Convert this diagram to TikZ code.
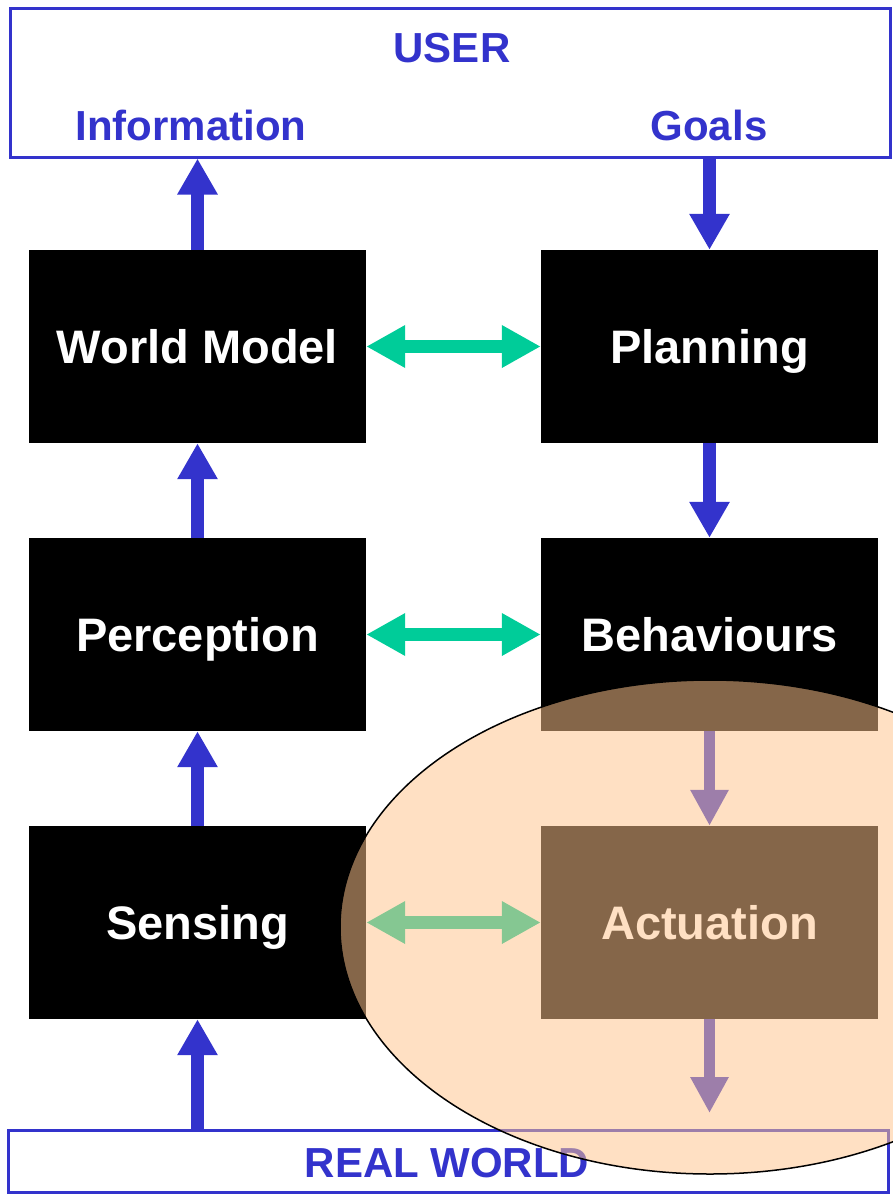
\documentclass[tikz,border=0pt]{standalone}
\usepackage{fontspec}
\setmainfont{Liberation Sans}
\usetikzlibrary{arrows.meta}
\definecolor{flowblue}{RGB}{51,51,204}
\definecolor{linkgreen}{RGB}{0,204,153}
\definecolor{peach}{RGB}{255,196,140}
\tikzset{
  block/.style={fill=black, minimum width=337pt, minimum height=193pt,
    inner sep=0pt, text=white, font=\fontsize{47}{50}\selectfont\bfseries,
    text height=34pt, text depth=0pt},
  frame/.style={draw=flowblue, line width=3pt, fill=white, inner sep=0pt},
  bluetext/.style={text=flowblue, font=\fontsize{42}{46}\selectfont\bfseries,
    inner sep=0pt, text height=30pt, text depth=0pt},
  flow/.style={draw=flowblue, line width=13pt,
    -{Triangle[length=36pt 0 0, width=38pt 0 0]}},
  thinflow/.style={draw=flowblue, line width=11pt,
    -{Triangle[length=36pt 0 0, width=36pt 0 0]}},
  link/.style={draw=linkgreen, line width=13pt,
    {Triangle[length=39pt 0 0, width=40pt 0 0]}-{Triangle[length=39pt 0 0, width=40pt 0 0]}},
}
\begin{document}
\begin{tikzpicture}[x=1pt,y=-1pt]
\useasboundingbox (0,0) rectangle (893,1194);

% user and world frames
\node[frame, minimum width=880pt, minimum height=149pt] (user) at (450,82.5) {};
\node[bluetext] (usertxt) at (452,47) {USER};
\node[bluetext] (info) at (191,125) {Information};
\node[bluetext] (goals) at (709,125) {Goals};
\node[frame, minimum width=880pt, minimum height=62pt] (real) at (448,1161) {};
\node[bluetext] (realtxt) at (447,1162) {REAL WORLD};

% processing blocks
\node[block] (wm)   at (197.5,346.5) {World Model};
\node[block] (plan) at (709.5,346.5) {Planning};
\node[block] (perc) at (197.5,634.5) {Perception};
\node[block] (beh)  at (709.5,634.5) {Behaviours};
\node[block] (sens) at (197.5,922.5) {Sensing};
\node[block] (act)  at (709.5,922.5) {Actuation};

% vertical data flow
\draw[flow] (wm.north) -- (wm.north |- user.south);
\draw[flow] (plan.north |- user.south) -- (plan.north);
\draw[flow] (plan.south) -- (beh.north);
\draw[flow] (perc.north) -- (wm.south);
\draw[flow] (sens.north) -- (perc.south);
\draw[flow] (sens.south |- real.north) -- (sens.south);
\draw[thinflow] (beh.south) -- (act.north);
\coordinate (actout) at (709.5,1113);
\draw[thinflow] (act.south) -- (actout);

% horizontal links between the columns
\draw[link] (wm.east) -- (plan.west);
\draw[link] (perc.east) -- (beh.west);
\draw[link] (sens.east) -- (act.west);

% highlighted actuation region
\begin{scope}
  \clip (0,0) rectangle (893,1194);
  \draw[black, line width=1.5pt, fill=peach, fill opacity=0.52]
    (710,927) ellipse [x radius=370pt, y radius=247pt];
\end{scope}
\end{tikzpicture}
\end{document}
